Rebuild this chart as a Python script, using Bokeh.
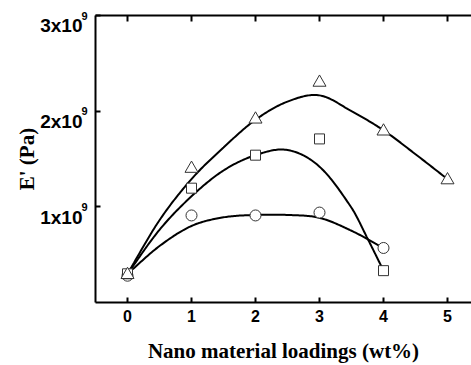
import numpy as np
from bokeh.plotting import figure
from bokeh.models import Range1d, LinearAxis, FixedTicker
from bokeh.embed import file_html
from bokeh.resources import INLINE

# ---- data ----
tri_x = [0, 1, 2, 3, 4, 5]
tri_y = [0.29e9, 1.40e9, 1.915e9, 2.30e9, 1.79e9, 1.28e9]
sq_x = [0, 1, 2, 3, 4]
sq_y = [0.30e9, 1.195e9, 1.54e9, 1.71e9, 0.333e9]
circ_x = [0, 1, 2, 3, 4]
circ_y = [0.28e9, 0.91e9, 0.91e9, 0.94e9, 0.57e9]

# trend curves
tri_fit_x = [0, 0.5, 1, 1.5, 2, 2.5, 3, 3.5, 4, 4.5, 5]
tri_fit_y = [0.30e9, 0.86e9, 1.29e9, 1.62e9, 1.91e9, 2.10e9, 2.165e9, 2.00e9, 1.80e9, 1.55e9, 1.29e9]
sq_fit_x = [0, 0.5, 1, 1.5, 2, 2.5, 3, 3.5, 3.75, 4]
sq_fit_y = [0.30e9, 0.76e9, 1.11e9, 1.38e9, 1.54e9, 1.594e9, 1.42e9, 0.99e9, 0.67e9, 0.333e9]
circ_fit_x = [0, 0.5, 1, 1.5, 2, 2.5, 3, 3.5, 4]
circ_fit_y = [0.30e9, 0.59e9, 0.80e9, 0.89e9, 0.915e9, 0.915e9, 0.885e9, 0.75e9, 0.57e9]

x_ticks = [0, 1, 2, 3, 4, 5]
y_ticks = [1e9, 2e9, 3e9]
y_tick_mant = ["1x10", "2x10", "3x10"]
y_tick_exp = ["9", "9", "9"]

Y_MAX = 3e9
PX = Y_MAX / 288.0  # data per screen pixel on the y axis


def smooth(xs, ys, n=24):
    xs = np.asarray(xs, float)
    ys = np.asarray(ys, float)
    m = np.empty_like(ys)
    m[0] = (ys[1] - ys[0]) / (xs[1] - xs[0])
    m[-1] = (ys[-1] - ys[-2]) / (xs[-1] - xs[-2])
    m[1:-1] = (ys[2:] - ys[:-2]) / (xs[2:] - xs[:-2])
    ox, oy = [], []
    t = np.linspace(0, 1, n, endpoint=False)
    h00 = 2 * t**3 - 3 * t**2 + 1
    h10 = t**3 - 2 * t**2 + t
    h01 = -2 * t**3 + 3 * t**2
    h11 = t**3 - t**2
    for i in range(len(xs) - 1):
        h = xs[i + 1] - xs[i]
        ox.extend(xs[i] + t * h)
        oy.extend(h00 * ys[i] + h10 * h * m[i] + h01 * ys[i + 1] + h11 * h * m[i + 1])
    ox.append(xs[-1])
    oy.append(ys[-1])
    return ox, oy


p = figure(width=471, height=365, output_backend="svg", toolbar_location=None,
           x_range=Range1d(-0.5, 5.375), y_range=Range1d(0, Y_MAX),
           min_border_left=95, min_border_right=0, min_border_top=15, min_border_bottom=62)
p.grid.visible = False
p.outline_line_color = None
p.background_fill_color = "white"
p.border_fill_color = "white"

# shifted range so the mantissa texts sit below their ticks as in the reference
p.extra_y_ranges = {
    "mant": Range1d(10.5 * PX, Y_MAX + 10.5 * PX),
}

# bottom axis
xa = p.xaxis[0]
xa.ticker = FixedTicker(ticks=x_ticks)
xa.axis_line_width = 2
xa.axis_line_color = "black"
xa.major_tick_in = 5
xa.major_tick_out = 0
xa.major_tick_line_width = 2
xa.minor_tick_line_color = None
xa.major_label_text_font = "Liberation Sans"
xa.major_label_text_font_style = "bold"
xa.major_label_text_font_size = "16px"
xa.major_label_text_color = "black"
xa.major_label_standoff = 7
xa.axis_label = "Nano material loadings (wt%)"
xa.axis_label_text_font = "Liberation Serif"
xa.axis_label_text_font_style = "bold"
xa.axis_label_text_font_size = "21px"
xa.axis_label_text_color = "black"
xa.axis_label_standoff = 14

# left axis: line, inward ticks and the exponent texts
ya = p.yaxis[0]
ya.ticker = FixedTicker(ticks=y_ticks)
ya.axis_line_width = 2
ya.axis_line_color = "black"
ya.major_tick_in = 5
ya.major_tick_out = 0
ya.major_tick_line_width = 2
ya.minor_tick_line_color = None
ya.major_label_overrides = dict(zip(y_ticks, y_tick_exp))
ya.major_label_standoff = 8
ya.major_label_text_font = "Liberation Sans"
ya.major_label_text_font_style = "bold"
ya.major_label_text_font_size = "11px"
ya.major_label_text_color = "black"

# mantissa texts + axis title
ax_mant = LinearAxis(y_range_name="mant", ticker=FixedTicker(ticks=y_ticks),
                     major_label_overrides=dict(zip(y_ticks, y_tick_mant)),
                     axis_line_color=None, major_tick_line_color=None,
                     minor_tick_line_color=None, major_tick_in=0, major_tick_out=0,
                     major_label_standoff=-4,
                     major_label_text_font="Liberation Sans",
                     major_label_text_font_style="bold",
                     major_label_text_font_size="19px",
                     major_label_text_color="black",
                     axis_label="E' (Pa)",
                     axis_label_text_font="Liberation Serif",
                     axis_label_text_font_style="bold",
                     axis_label_text_font_size="21px",
                     axis_label_text_color="black",
                     axis_label_standoff=-2)
p.add_layout(ax_mant, "left")

# top axis (frame border with inward ticks)
ta = LinearAxis(ticker=FixedTicker(ticks=x_ticks), axis_line_width=2, axis_line_color="black",
                major_tick_in=6, major_tick_out=0, major_tick_line_width=2,
                minor_tick_line_color=None, major_label_text_color=None,
                major_label_text_font_size="1px", major_label_standoff=0)
p.add_layout(ta, "above")

# curves
for fx, fy in [(tri_fit_x, tri_fit_y), (sq_fit_x, sq_fit_y), (circ_fit_x, circ_fit_y)]:
    cx, cy = smooth(fx, fy)
    p.line(cx, cy, line_color="black", line_width=2)

# markers
p.scatter(circ_x, circ_y, marker="circle", size=11, fill_color="white",
          line_color="#333333", line_width=1)
p.scatter(sq_x, sq_y, marker="square", size=10, fill_color="white",
          line_color="#333333", line_width=1)
p.scatter(tri_x, tri_y, marker="triangle", size=13, fill_color="white",
          line_color="#333333", line_width=1)

open("out.html", "w").write(file_html(p, INLINE))
